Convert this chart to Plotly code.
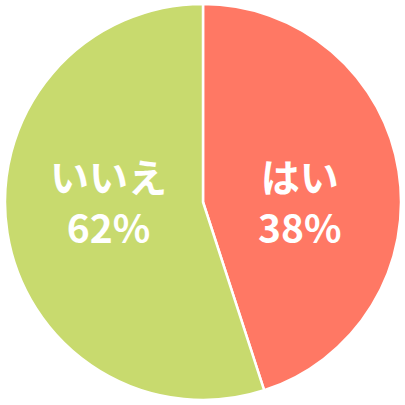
import plotly.graph_objects as go

# slice labels / sizes as drawn, and the percentage text printed on each slice
labels = ["はい", "いいえ"]
slice_sizes = [45, 55]
pct_text = ["38%", "62%"]
colors = ["#FF7864", "#C8DA6E"]

W = H = 405
M = dict(l=4, r=3, t=4, b=5)


def to_paper(px, py):
    # pixel position in the page -> paper coords of the plot area
    w = W - M["l"] - M["r"]
    h = H - M["t"] - M["b"]
    return (px - M["l"]) / w, 1 - (py - M["t"]) / h


fig = go.Figure(go.Pie(
    labels=labels,
    values=slice_sizes,
    textinfo="none",
    sort=False,
    direction="clockwise",
    rotation=0,
    marker=dict(colors=colors, line=dict(color="white", width=2.5)),
    hoverinfo="skip",
    showlegend=False,
))

# text block centres (pixels) for each slice
text_pos = [(300, 200), (109, 200)]

for i in range(len(labels)):
    x, y = to_paper(*text_pos[i])
    fig.add_annotation(x=x, y=y, xref="paper", yref="paper",
                       text=f"{labels[i]}<br>{pct_text[i]}",
                       showarrow=False, xanchor="center", yanchor="middle", align="center",
                       font=dict(family="Noto Sans CJK JP", size=39, color="white", weight=700))

fig.update_layout(
    width=W, height=H,
    margin=M,
    paper_bgcolor="white",
    plot_bgcolor="white",
)

fig.write_html("out.html", config={"displayModeBar": False},
               post_script="document.body.style.margin='0';")
